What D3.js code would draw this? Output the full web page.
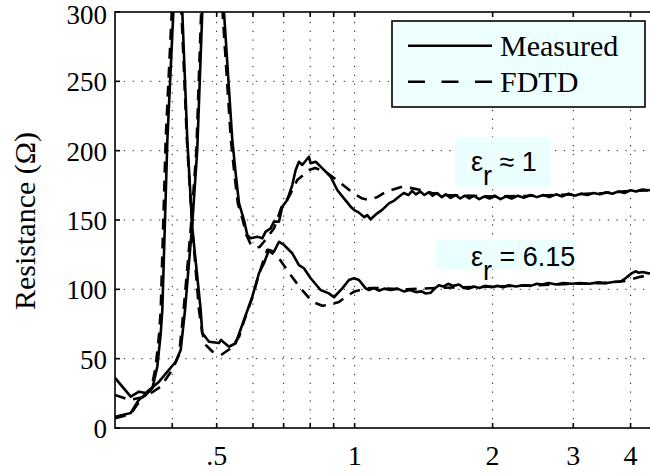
<!DOCTYPE html>
<html lang="en">
<head>
<meta charset="UTF-8">
<script src="https://cdn.jsdelivr.net/npm/d3@7/dist/d3.min.js"></script>
<title>Resistance</title>
<style>
    body { margin: 0; background: #fff; }
    svg { display: block; }
</style>
</head>
<body>
<script>
// ---------------- data (frequency, resistance in ohm) ----------------
// measured, air (er ~ 1)
const measuredAir = [
    [0.300, 36.1], [0.3247, 22.6], [0.3384, 26.2], [0.350, 25.2], [0.3743, 33.4],
    [0.407, 47.8], [0.4173, 56.2], [0.4265, 85.1], [0.4424, 147.8], [0.4535, 200.5],
    [0.4651, 300], [0.4885, 420], [0.5187, 300], [0.5408, 207.7], [0.5501, 183.7],
    [0.5594, 162], [0.5735, 150], [0.5832, 139.2], [0.5932, 136.8], [0.6132, 138],
    [0.6287, 136.8], [0.6395, 141.6], [0.6557, 144], [0.6668, 148.8], [0.6838, 148.8],
    [0.6952, 159.6], [0.7129, 164.4], [0.731, 175.2], [0.7436, 186.1], [0.7559, 192],
    [0.7686, 189.7], [0.7949, 195.6], [0.8017, 190.9], [0.8222, 192], [0.857, 186.1],
    [0.8865, 181.2], [0.9163, 171.6], [0.9477, 165.6], [0.9802, 159.6], [1.0, 157],
    [1.02, 155.5], [1.05, 152], [1.065, 153.5], [1.084, 150.5], [1.10, 152.5],
    [1.12, 154.8], [1.15, 157.5], [1.188, 162], [1.22, 164], [1.249, 166.8],
    [1.28, 169.5], [1.31, 168], [1.335, 171], [1.36, 168.5], [1.39, 170.5],
    [1.42, 168], [1.45, 170], [1.48, 167.5], [1.51, 169.5], [1.55, 166.5],
    [1.58, 168.5], [1.62, 166], [1.66, 168], [1.70, 165.5], [1.74, 167.5],
    [1.78, 165.5], [1.82, 167.5], [1.87, 165], [1.92, 167], [1.97, 165.5],
    [2.02, 167.5], [2.08, 165], [2.14, 167], [2.20, 165.5], [2.27, 167.5],
    [2.34, 166], [2.42, 168], [2.50, 166.5], [2.58, 168], [2.66, 166.5],
    [2.75, 168.5], [2.84, 167], [2.93, 169], [3.02, 167.5], [3.12, 169],
    [3.22, 168], [3.32, 169.5], [3.43, 168.5], [3.54, 170], [3.65, 169],
    [3.76, 170.5], [3.88, 169.5], [4.00, 171.5], [4.12, 170.5], [4.24, 172],
    [4.38, 171.5], [4.50, 172]
];
// FDTD, air (er ~ 1)
const fdtdAir = [
    [0.300, 23.8], [0.3225, 20.2], [0.350, 22.6], [0.3775, 29.8], [0.400, 42],
    [0.414, 53], [0.4235, 85], [0.4395, 146], [0.4515, 200], [0.4625, 300],
    [0.486, 420], [0.515, 300], [0.537, 207.7], [0.5465, 183.7], [0.556, 162],
    [0.570, 150], [0.580, 139.5], [0.592, 133], [0.605, 130], [0.620, 130.5],
    [0.634, 134.3], [0.650, 139], [0.667, 144], [0.695, 160.8], [0.719, 166.8],
    [0.7495, 178.8], [0.795, 186], [0.820, 187.5], [0.8646, 184.8], [0.924, 177.6],
    [0.9965, 169], [1.04, 165.5], [1.075, 164.4], [1.12, 166.5], [1.17, 170.4],
    [1.27, 174], [1.33, 173], [1.395, 171.6], [1.475, 169.4], [1.60, 168],
    [2.0, 167], [2.5, 167.5], [3.0, 168.5], [3.5, 169.5], [4.0, 171], [4.5, 171.5]
];
// measured, dielectric (er = 6.15)
const measuredDiel = [
    [0.300, 8.1], [0.3247, 10.8], [0.338, 20.2], [0.362, 28.6], [0.371, 44.2],
    [0.3775, 68.3], [0.3805, 85.1], [0.3903, 207.7], [0.4022, 300], [0.4111, 370],
    [0.4207, 300], [0.4314, 207.7], [0.4424, 144.2], [0.4614, 85.1], [0.4651, 68.5],
    [0.4812, 62.2], [0.5058, 61.3], [0.511, 63.5], [0.5319, 58.6], [0.5501, 61.1],
    [0.5735, 77.9], [0.598, 94.7], [0.6184, 111.6], [0.6341, 118.8], [0.6502, 128.4],
    [0.6668, 127.1], [0.6838, 134.3], [0.7012, 132], [0.731, 126], [0.7559, 117.5],
    [0.7752, 115.2], [0.8017, 108], [0.8429, 99.5], [0.8788, 97.1], [0.9013, 94.3],
    [0.9397, 100.7], [0.9718, 106.7], [0.9965, 108], [1.022, 106.7], [1.057, 100.7],
    [1.075, 99.5], [1.10, 101], [1.13, 99], [1.16, 100.5], [1.20, 99.5],
    [1.24, 100.5], [1.28, 98.5], [1.32, 99.5], [1.36, 98], [1.40, 98.5],
    [1.43, 97], [1.465, 97.5], [1.50, 101], [1.527, 103], [1.56, 102],
    [1.60, 104], [1.64, 102.5], [1.69, 103.5], [1.73, 101], [1.776, 100.5],
    [1.82, 102], [1.87, 101], [1.93, 102.5], [1.99, 101.5], [2.05, 102.5],
    [2.11, 101.5], [2.17, 103], [2.25, 102], [2.33, 103], [2.42, 102.5],
    [2.50, 104], [2.56, 103.5], [2.65, 104.5], [2.75, 103.5], [2.85, 104.5],
    [2.98, 104], [3.10, 104.5], [3.25, 104], [3.40, 105], [3.55, 104.5],
    [3.70, 105.5], [3.80, 105.5], [3.90, 108], [4.02, 111.5], [4.10, 113],
    [4.17, 112], [4.25, 112.5], [4.38, 111.5], [4.50, 112]
];
// FDTD, dielectric (er = 6.15)
const fdtdDiel = [
    [0.300, 7], [0.3247, 10], [0.338, 18.5], [0.360, 28], [0.368, 44],
    [0.3745, 68], [0.3775, 85], [0.387, 207.7], [0.399, 300], [0.409, 375],
    [0.419, 300], [0.4305, 207.7], [0.4424, 144], [0.4575, 85], [0.4651, 68.5],
    [0.4732, 59.9], [0.490, 55], [0.511, 52.6], [0.537, 57.5], [0.560, 66],
    [0.5735, 77], [0.598, 94], [0.6184, 111], [0.6341, 122], [0.645, 128.5],
    [0.6838, 122.4], [0.725, 110.3], [0.7624, 100.7], [0.8082, 91.1], [0.850, 88.2],
    [0.8788, 88.7], [0.9242, 90.9], [0.960, 95], [1.0, 98.5], [1.05, 100.5],
    [1.10, 101], [1.30, 100], [1.50, 101], [2.0, 102], [2.5, 103], [3.0, 104],
    [3.5, 104.5], [3.9, 106], [4.2, 109], [4.5, 111]
];

const xGridTicks = [0.4, 0.5, 0.6, 0.7, 0.8, 0.9, 1, 2, 3, 4];
const xLabelTicks = [0.5, 1, 2, 3, 4];
const xLabelText = [".5", "1", "2", "3", "4"];
const yTicks = [0, 50, 100, 150, 200, 250, 300];
const legendNames = ["Measured", "FDTD"];

// ---------------- layout ----------------
const W = 650, H = 475;
const plot = { left: 115, right: 654, top: 12, bottom: 428 };
const SERIF = "'Liberation Serif', 'Times New Roman', Times, 'DejaVu Serif', serif";
const SANS = "'Liberation Sans', Arial, Helvetica, sans-serif";

const svg = d3.select("body").append("svg")
    .attr("width", W)
    .attr("height", H);

const x = d3.scaleLog().domain([0.3, 4.5]).range([plot.left, plot.right]);
const y = d3.scaleLinear().domain([0, 300]).range([plot.bottom, plot.top]);

svg.append("defs").append("clipPath").attr("id", "clip")
    .append("rect")
    .attr("x", plot.left).attr("y", plot.top)
    .attr("width", plot.right - plot.left).attr("height", plot.bottom - plot.top);

// grid (dotted)
const grid = svg.append("g").attr("stroke", "#222").attr("stroke-width", 1)
    .attr("stroke-dasharray", "1.3,7.5");
grid.selectAll(".gx").data(xGridTicks).enter().append("line")
    .attr("x1", d => x(d)).attr("x2", d => x(d))
    .attr("y1", plot.bottom).attr("y2", plot.top);
grid.selectAll(".gy").data(yTicks.slice(1, -1)).enter().append("line")
    .attr("x1", plot.left).attr("x2", plot.right)
    .attr("y1", d => y(d)).attr("y2", d => y(d));

// curves
const line = d3.line().x(d => x(d[0])).y(d => y(d[1]));
const curves = svg.append("g").attr("clip-path", "url(#clip)")
    .attr("fill", "none").attr("stroke", "#000").attr("stroke-width", 2.6)
    .attr("stroke-linejoin", "round");
[measuredAir, measuredDiel].forEach(s => curves.append("path").attr("d", line(s)));
[fdtdAir, fdtdDiel].forEach(s => curves.append("path").attr("d", line(s))
    .attr("stroke-dasharray", "11,8"));

// annotation labels (boxes hide the grid)
function epsLabel(bx, by, bw, bh, tx, ty, rest) {
    svg.append("rect").attr("x", bx).attr("y", by).attr("width", bw).attr("height", bh)
        .attr("fill", "#ebffff");
    const t = svg.append("text").attr("font-family", SANS).attr("font-size", 27)
        .attr("x", tx).attr("y", ty);
    t.append("tspan").text("ε");
    t.append("tspan").attr("dy", 14).text("r");
    t.append("tspan").attr("dy", -14).text(rest);
}
epsLabel(455, 137, 96, 50, 471, 170.5, " ≈ 1");
epsLabel(436, 240, 140, 29, 471, 266, " = 6.15");

// axes frame + ticks
const axes = svg.append("g").attr("stroke", "#000").attr("stroke-width", 1.6);
axes.append("rect").attr("x", plot.left).attr("y", plot.top)
    .attr("width", plot.right - plot.left).attr("height", plot.bottom - plot.top)
    .attr("fill", "none");
axes.selectAll(".tb").data(xGridTicks).enter().append("line")
    .attr("x1", d => x(d)).attr("x2", d => x(d))
    .attr("y1", plot.bottom).attr("y2", plot.bottom - 5);
axes.selectAll(".tt").data(xGridTicks).enter().append("line")
    .attr("x1", d => x(d)).attr("x2", d => x(d))
    .attr("y1", plot.top).attr("y2", plot.top + 5);
axes.selectAll(".tl").data(yTicks).enter().append("line")
    .attr("x1", plot.left).attr("x2", plot.left + 5)
    .attr("y1", d => y(d)).attr("y2", d => y(d));

// tick labels (top one kept inside the page)
svg.selectAll(".ylab").data(yTicks).enter().append("text")
    .attr("font-family", SERIF).attr("font-size", 27)
    .attr("text-anchor", "end")
    .attr("x", 107).attr("y", d => Math.max(y(d) + 10, 24))
    .text(d => d);
svg.selectAll(".xlab").data(xLabelTicks).enter().append("text")
    .attr("font-family", SERIF).attr("font-size", 28)
    .attr("text-anchor", "middle")
    .attr("x", d => x(d)).attr("y", 465)
    .text((d, i) => xLabelText[i]);

svg.append("text").attr("font-family", SERIF).attr("font-size", 30)
    .attr("text-anchor", "middle")
    .attr("transform", "translate(35,221) rotate(-90)")
    .text("Resistance (Ω)");

// legend
const lg = svg.append("g");
lg.append("rect").attr("x", 392).attr("y", 21).attr("width", 253).attr("height", 86)
    .attr("fill", "#eeffff").attr("stroke", "#000").attr("stroke-width", 1.6);
legendNames.forEach((name, i) => {
    const ly = 45.7 + i * 36;
    lg.append("line").attr("x1", 408).attr("x2", 492).attr("y1", ly).attr("y2", ly)
        .attr("stroke", "#000").attr("stroke-width", 2.6)
        .attr("stroke-dasharray", i === 0 ? null : "17,16.5");
    lg.append("text").attr("font-family", SERIF).attr("font-size", 30)
        .attr("x", 500).attr("y", ly + 10).text(name);
});
</script>
</body>
</html>
